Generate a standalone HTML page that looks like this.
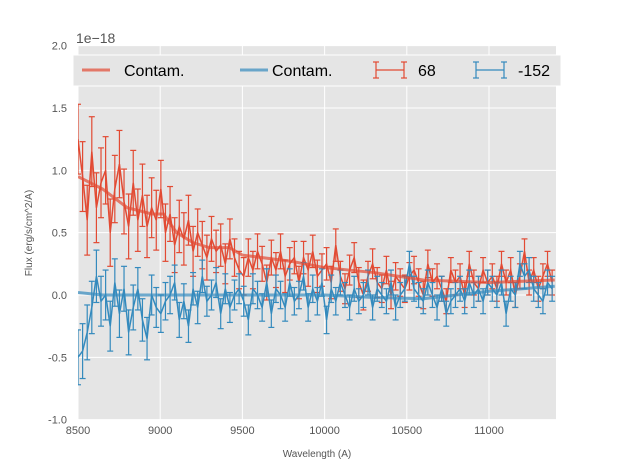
<!DOCTYPE html>
<html><head><meta charset="utf-8"><style>
html,body{margin:0;padding:0;background:#fff;}
svg{display:block;font-family:"Liberation Sans","DejaVu Sans",sans-serif;}
</style></head><body>
<svg id="chart" width="617" height="467">
<rect x="78" y="46" width="478" height="374" fill="#e5e5e5"/>
<g id="grid"></g><g id="marks"></g><g id="axes"></g>
<text x="76" y="43" font-size="14" fill="#555">1e−18</text>
<text x="317" y="457" font-size="10" fill="#555" text-anchor="middle">Wavelength (A)</text>
<text transform="translate(32,233) rotate(-90)" font-size="10" fill="#555" text-anchor="middle">Flux (erg/s/cm^2/A)</text>
<g id="legend">
<rect x="73" y="55" width="488" height="31" fill="#e5e5e5" stroke="#fff" stroke-width="1"/>
</g>
</svg>
<script>
const xTicks=[8500,9000,9500,10000,10500,11000];
const yTicks=[-1.0,-0.5,0.0,0.5,1.0,1.5,2.0];
const redFlux=[1.25,0.95,0.6,1.15,0.7,0.9,1.0,0.5,0.85,1.05,0.75,0.55,0.9,0.6,0.8,0.55,0.7,0.6,
0.85,0.5,0.65,0.4,0.55,0.45,0.6,0.35,0.5,0.4,0.3,0.45,0.35,0.4,0.25,0.45,0.3,0.2,
0.15,0.3,0.2,0.35,0.25,0.1,0.3,0.2,0.35,0.15,0.25,0.3,0.1,0.3,0.2,0.35,0.15,0.2,
0.25,0.1,0.4,0.15,0.05,0.2,0.3,0.1,0.0,0.15,0.25,0.1,0.05,0.2,0.0,0.15,0.1,0.05,
0.15,0.2,0.1,0.0,0.25,0.1,0.15,0.05,-0.05,0.2,0.1,0.15,0.0,0.25,0.1,0.05,0.2,0.1,
0.15,0.05,0.25,0.1,0.2,0.0,0.15,0.35,0.1,0.2,0.05,0.15,0.25,0.1];
const redErr=[0.28,0.28,0.28,0.28,0.28,0.28,0.27,0.27,0.27,0.27,0.26,0.26,0.26,0.25,0.25,0.25,0.24,0.24,
0.23,0.23,0.22,0.22,0.21,0.21,0.2,0.2,0.19,0.19,0.18,0.18,0.17,0.17,0.16,0.16,0.15,0.15,
0.15,0.15,0.15,0.14,0.14,0.14,0.14,0.14,0.14,0.13,0.13,0.13,0.13,0.13,0.13,0.13,0.13,0.13,
0.13,0.13,0.13,0.12,0.12,0.12,0.12,0.12,0.12,0.12,0.12,0.12,0.11,0.11,0.11,0.11,0.11,0.11,
0.11,0.11,0.11,0.11,0.11,0.11,0.1,0.1,0.1,0.1,0.1,0.1,0.1,0.1,0.1,0.1,0.1,0.1,
0.1,0.1,0.1,0.1,0.1,0.1,0.1,0.1,0.1,0.1,0.1,0.1,0.1,0.1];
const blueFlux=[-0.5,-0.45,-0.3,-0.1,0.15,-0.05,0.0,-0.25,0.1,-0.15,0.05,-0.3,-0.1,0.05,-0.2,-0.35,0.0,-0.1,
-0.15,-0.05,0.0,0.1,-0.2,-0.05,-0.25,0.05,-0.1,0.15,-0.05,0.0,0.1,-0.15,0.05,-0.1,0.0,0.05,
-0.05,-0.2,0.05,0.0,-0.1,0.1,-0.15,0.05,0.0,-0.1,0.1,-0.05,0.0,0.15,-0.1,0.05,-0.05,0.1,
-0.2,0.05,-0.05,0.1,0.0,-0.1,0.05,-0.05,0.0,0.1,-0.1,0.05,0.0,-0.05,0.1,-0.1,0.0,0.05,
0.25,0.05,0.0,-0.05,0.1,0.0,-0.1,0.05,-0.15,-0.05,0.0,0.05,-0.05,0.1,0.0,0.05,-0.05,0.1,
0.05,0.0,0.1,-0.15,0.05,0.0,0.25,0.15,0.2,0.05,0.0,-0.05,0.1,0.05];
const blueErr=[0.22,0.22,0.22,0.21,0.21,0.2,0.2,0.2,0.19,0.19,0.18,0.18,0.18,0.17,0.17,0.17,0.16,0.16,
0.15,0.15,0.15,0.14,0.14,0.14,0.13,0.13,0.13,0.13,0.12,0.12,0.12,0.12,0.12,0.12,0.12,0.12,
0.12,0.12,0.12,0.11,0.11,0.11,0.11,0.11,0.11,0.11,0.11,0.11,0.11,0.11,0.11,0.11,0.11,0.11,
0.11,0.11,0.11,0.1,0.1,0.1,0.1,0.1,0.1,0.1,0.1,0.1,0.1,0.1,0.1,0.1,0.1,0.1,
0.1,0.1,0.1,0.1,0.1,0.1,0.1,0.1,0.1,0.1,0.1,0.1,0.1,0.1,0.1,0.1,0.1,0.1,
0.1,0.1,0.1,0.1,0.1,0.1,0.1,0.1,0.1,0.1,0.1,0.1,0.1,0.1];
const wlStart=8500, wlStep=28;
const contamWl=[8500,8650,8800,8950,9020,9100,9200,9300,9420,9500,9800,10000,10300,10600,11000,11400];
const contamRed=[0.95,0.85,0.7,0.65,0.65,0.5,0.42,0.38,0.38,0.32,0.27,0.22,0.18,0.12,0.1,0.12];
const contamBlue=[0.02,0.0,0.0,0.0,0.0,0.0,0.0,0.0,0.0,0.0,0.0,0.0,-0.02,-0.03,0.03,0.07];

const X=v=>78+(v-8500)*(411/2500);
const Y=v=>295-v*124.67;
const NS="http://www.w3.org/2000/svg";
function mk(parent,tag,attrs){const e=document.createElementNS(NS,tag);for(const k in attrs)e.setAttribute(k,attrs[k]);parent.appendChild(e);return e;}
const grid=document.getElementById('grid'),axes=document.getElementById('axes'),marks=document.getElementById('marks');
xTicks.forEach(t=>{const x=X(t);
 const l=mk(grid,'line',{x1:x,x2:x,y1:46,y2:420,stroke:'#fff','stroke-width':1});
 
 
 const tx=mk(axes,'text',{x:x,y:434,'font-size':11,fill:'#555','text-anchor':'middle'});tx.textContent=t;
 
 
});
yTicks.forEach(t=>{const y=Y(t);
 const l=mk(grid,'line',{x1:78,x2:556,y1:y,y2:y,stroke:'#fff','stroke-width':1});
 
 
 const tx=mk(axes,'text',{x:67,y:y+4,'font-size':11,fill:'#555','text-anchor':'end'});tx.textContent=t.toFixed(1);
 
 
});
function smooth(vals,color,name){
 const p=mk(marks,'polyline',{points:contamWl.map((w,i)=>X(w)+','+Y(vals[i])).join(' '),fill:'none',stroke:color,'stroke-width':3,'stroke-opacity':0.7});
 
 
}
function series(vals,errs,color,name){
 const g=mk(marks,'g',{stroke:color,'stroke-width':1.2,fill:'none'});
 
 
 vals.forEach((v,i)=>{const x=X(wlStart+i*wlStep);
  mk(g,'line',{x1:x,x2:x,y1:Y(v-errs[i]),y2:Y(v+errs[i])});
  mk(g,'line',{x1:x-3,x2:x+3,y1:Y(v-errs[i]),y2:Y(v-errs[i])});
  mk(g,'line',{x1:x-3,x2:x+3,y1:Y(v+errs[i]),y2:Y(v+errs[i])});
 });
 mk(g,'polyline',{points:vals.map((v,i)=>X(wlStart+i*wlStep)+','+Y(v)).join(' '),'stroke-width':1.5});
}
series(redFlux,redErr,'#E24A33','series-68');
series(blueFlux,blueErr,'#348ABD','series-minus152');
smooth(contamRed,'#E24A33','contam-line-68');
smooth(contamBlue,'#348ABD','contam-line-minus152');
const cp=mk(document.getElementById('chart'),'clipPath',{id:'cp'});mk(cp,'rect',{x:78,y:46,width:478,height:374});
marks.setAttribute('clip-path','url(#cp)');
// legend
const lg=document.getElementById('legend');
const entries=[['line','#E24A33','Contam.',82,124],['line','#348ABD','Contam.',240,272],['err','#E24A33','68',376,418],['err','#348ABD','-152',476,518]];
entries.forEach(e=>{
 const g=mk(lg,'g',{});
 
 
 if(e[0]==='line'){mk(g,'line',{x1:e[3],x2:e[3]+28,y1:70,y2:70,stroke:e[1],'stroke-width':3,'stroke-opacity':0.7});}
 else{const s={stroke:e[1],'stroke-width':1.2};
  mk(g,'line',Object.assign({x1:e[3],x2:e[3]+28,y1:70,y2:70},s));
  mk(g,'line',Object.assign({x1:e[3],x2:e[3],y1:62,y2:78},s));
  mk(g,'line',Object.assign({x1:e[3]+28,x2:e[3]+28,y1:62,y2:78},s));
  mk(g,'line',Object.assign({x1:e[3]-3,x2:e[3]+3,y1:62,y2:62},s));
  mk(g,'line',Object.assign({x1:e[3]-3,x2:e[3]+3,y1:78,y2:78},s));
  mk(g,'line',Object.assign({x1:e[3]+25,x2:e[3]+31,y1:62,y2:62},s));
  mk(g,'line',Object.assign({x1:e[3]+25,x2:e[3]+31,y1:78,y2:78},s));
 }
 const t=mk(g,'text',{x:e[4],y:76,'font-size':16,fill:'#000'});t.textContent=e[2];
});
</script>
</body></html>
